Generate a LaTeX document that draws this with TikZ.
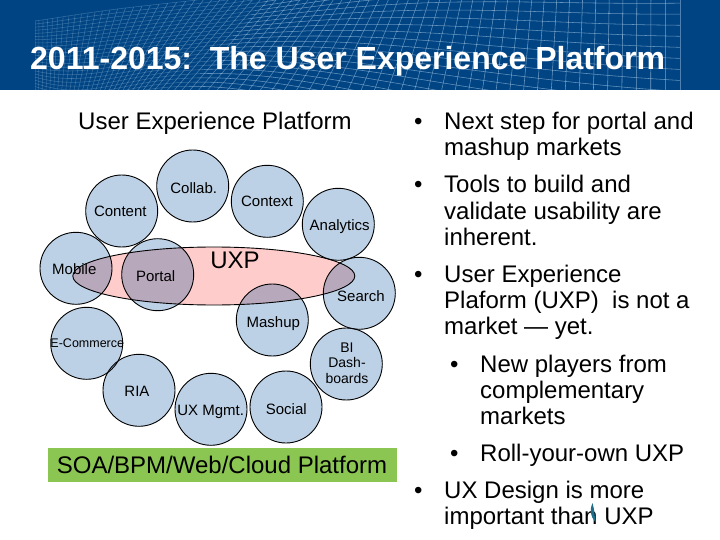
\documentclass[tikz,border=0pt]{standalone}
\usepackage{fontspec}
\setmainfont{Liberation Sans}
\usetikzlibrary{shapes.geometric}
\definecolor{banner}{HTML}{004483}
\definecolor{meshc}{HTML}{A8CAE8}
\definecolor{bubble}{HTML}{BDD1E6}
\definecolor{overlap}{HTML}{B8A8BC}
\definecolor{pinkfill}{HTML}{FFCCCC}
\definecolor{platform}{HTML}{8CC652}
\definecolor{sliver}{HTML}{1F6E8C}
\tikzset{
  declare function={
    px(\p,\t)=35+645*(0.4*\p+0.6*\p*\p)-90*(\t-0.5)*sin(180*\p)*sin(180*\p);
    py(\p,\t)=48+12*sin(360*\p+60)+(\t-0.5)*(75+190*\p*\p)+14*(\t-0.5)*sin(540*\p);
  },
  bubblenode/.style={circle,draw=black,line width=0.9pt,minimum size=72pt,inner sep=0pt},
  bubblefill/.style={circle,fill=bubble,minimum size=72pt,inner sep=0pt},
  bubbletext/.style={inner sep=0pt,align=center,text=black,font=\fontsize{15}{16}\selectfont},
  line/.style={anchor=base west,font=\fontsize{24}{26}\selectfont,inner sep=0pt,text=black},
  meshline/.style={draw=meshc,line width=0.55pt}
}
\newcommand{\overlapdisc}[2]{\begin{scope}\clip (213.8,276) ellipse [x radius=141,y radius=29];\fill[overlap] (#1,#2) circle [radius=36];\end{scope}}
\begin{document}
\begin{tikzpicture}[x=1pt,y=-1pt]
\useasboundingbox (0,0) rectangle (720,540);
\fill[white] (0,0) rectangle (720,540);
\fill[banner] (0,0) rectangle (720,90);
\begin{scope}
\clip (0,0) rectangle (720,90);
% warped mesh: lines of constant t, brighter to the right
\foreach \i in {0,...,24}{
  \pgfmathsetmacro{\tv}{\i/24}
  \draw[meshline,opacity=0.3] plot[smooth,domain=0:0.45,samples=16] ({px(\x,\tv)},{py(\x,\tv)});
  \draw[meshline,opacity=0.6] plot[smooth,domain=0.45:1,samples=18] ({px(\x,\tv)},{py(\x,\tv)});
}
% lines of constant p
\foreach \i in {0,...,70}{
  \pgfmathsetmacro{\pv}{\i/70}
  \pgfmathsetmacro{\op}{0.25+0.45*\pv}
  \draw[meshline,opacity=\op] plot[smooth,domain=0:1,samples=9] ({px(\pv,\x)},{py(\pv,\x)});
}
\end{scope}
\node[anchor=base west,inner sep=0pt,text=white,font=\bfseries\fontsize{32}{34}\selectfont] (title) at (30,70) {2011-2015:\ \ The User Experience Platform};
\node[line] (heading) at (78,130) {User Experience Platform};
% bubble fills
\foreach \n/\x/\y in {a/192.7/186,b/267.3/201.3,c/121.7/211,d/338.3/224.3,e/76/268.3,f/157.7/274.7,g/359.3/293.3,h/272.3/320,i/86.7/343.3,j/139/390.3,k/211/409.3,l/286/407,m/346.3/364}{
  \node[bubblefill] (fill\n) at (\x,\y) {};
}
\node[ellipse,fill=pinkfill,minimum width=282pt,minimum height=58pt,inner sep=0pt] (uxpfill) at (213.8,276) {};
\overlapdisc{76}{268.3}
\overlapdisc{157.7}{274.7}
\overlapdisc{359.3}{293.3}
\overlapdisc{272.3}{320}
\node[ellipse,draw=black,line width=0.9pt,minimum width=282pt,minimum height=58pt,inner sep=0pt] (uxp) at (213.8,276) {};
\foreach \n/\x/\y in {a/192.7/186,b/267.3/201.3,c/121.7/211,d/338.3/224.3,e/76/268.3,f/157.7/274.7,g/359.3/293.3,h/272.3/320,i/86.7/343.3,j/139/390.3,k/211/409.3,l/286/407,m/346.3/364}{
  \node[bubblenode] (ring\n) at (\x,\y) {};
}
\node[bubbletext] (collab) at (193.7,187.7) {Collab.};
\node[bubbletext] (context) at (267,201) {Context};
\node[bubbletext] (content) at (120.3,211.3) {Content};
\node[bubbletext] (analytics) at (339.7,227) {Analytics};
\node[bubbletext] (mobile) at (74.3,269.5) {Mobile};
\node[bubbletext] (portal) at (155.7,275.7) {Portal};
\node[bubbletext] (search) at (361,295.7) {Search};
\node[bubbletext] (mashup) at (273.3,323.7) {Mashup};
\node[bubbletext,font=\fontsize{12.5}{14}\selectfont] (ecom) at (87.3,343) {E-Commerce};
\node[bubbletext] (ria) at (137,391.7) {RIA};
\node[bubbletext] (uxm) at (210.7,411.7) {UX Mgmt.};
\node[bubbletext] (social) at (286.3,409) {Social};
\node[bubbletext,font=\fontsize{14}{15.5}\selectfont] (bi) at (347,363) {BI\\Dash-\\boards};
\node[anchor=base,inner sep=0pt,font=\fontsize{24}{26}\selectfont] (uxplabel) at (235,268) {UXP};
\fill[platform] (48,448) rectangle (397,482);
\node[anchor=base,inner sep=0pt,font=\fontsize{24}{26}\selectfont] (soa) at (222,473) {SOA/BPM/Web/Cloud Platform};
% bullets
\foreach \x/\y in {414/130,414/193,414/282,450/372,450/461,414/498}{
  \node[line] at (\x,\y) {•};
}
\node[line] (t1) at (444,130) {Next step for portal and};
\node[line] (t2) at (444,156) {mashup markets};
\node[line] (t3) at (444,193) {Tools to build and};
\node[line] (t4) at (444,219) {validate usability are};
\node[line] (t5) at (444,245) {inherent.};
\node[line] (t6) at (444,282) {User Experience};
\node[line] (t7) at (444,308) {Plaform (UXP)\ \ is not a};
\node[line] (t8) at (444,334) {market — yet.};
\node[line] (t9) at (480,372) {New players from};
\node[line] (t10) at (480,398) {complementary};
\node[line] (t11) at (480,424) {markets};
\node[line] (t12) at (480,461) {Roll-your-own UXP};
\node[line] (t13) at (444,498) {UX Design is more};
\node[line] (t14) at (444,524) {important than UXP};
\fill[sliver] (592.5,503) .. controls (589.5,510) and (590,516) .. (595.5,522) .. controls (594.5,515) and (594.5,510) .. (592.5,503);
\end{tikzpicture}
\end{document}
